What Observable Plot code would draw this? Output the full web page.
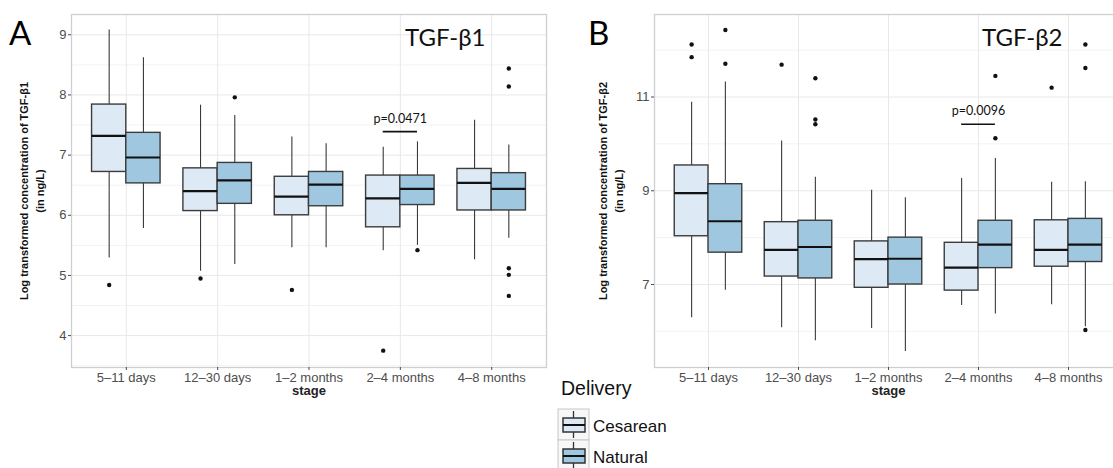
<!DOCTYPE html>
<html><head><meta charset="utf-8">
<script src="https://cdn.jsdelivr.net/npm/d3@7"></script>
<script src="https://cdn.jsdelivr.net/npm/@observablehq/plot@0.6"></script>
<style>
body{margin:0;background:#fff;}
#wrap{position:relative;width:1113px;height:468px;overflow:hidden;background:#fff;font-family:"Liberation Sans",Arial,sans-serif;}
#pa{position:absolute;left:0;top:0;width:560px;height:400px;}
#pb{position:absolute;left:560px;top:0;width:572px;height:400px;}
#ov{position:absolute;left:0;top:0;pointer-events:none;}
</style></head><body>
<div id="wrap"><div id="pa"></div><div id="pb"></div>
<svg id="ov" width="1113" height="468" font-family="Liberation Sans, Arial, sans-serif">
  <text x="9" y="45" font-family="Lato, 'Open Sans', sans-serif" font-size="33">A</text>
  <text x="588" y="45" font-family="Lato, 'Open Sans', sans-serif" font-size="33">B</text>
  <text x="561" y="395" font-size="19.5" fill="#111">Delivery</text>
  <g id="legend"></g>
</svg></div>
<script>
const stages = ["5–11 days", "12–30 days", "1–2 months", "2–4 months", "4–8 months"];
const groups = ["Cesarean", "Natural"];
const fills = ["#dde9f5", "#9fc8e0"];

// Panel A: TGF-β1
const A_ces_low  = [5.29, 5.07, 5.46, 5.41, 5.26];
const A_ces_q1   = [6.72, 6.07, 6.00, 5.80, 6.08];
const A_ces_med  = [7.32, 6.40, 6.31, 6.28, 6.54];
const A_ces_q3   = [7.84, 6.78, 6.64, 6.66, 6.77];
const A_ces_high = [9.08, 7.83, 7.30, 7.13, 7.58];
const A_ces_out  = [[4.84], [4.95], [4.76], [3.75], []];
const A_nat_low  = [5.78, 5.18, 5.46, 5.50, 5.62];
const A_nat_q1   = [6.53, 6.19, 6.15, 6.17, 6.08];
const A_nat_med  = [6.96, 6.58, 6.51, 6.44, 6.44];
const A_nat_q3   = [7.37, 6.87, 6.72, 6.66, 6.70];
const A_nat_high = [8.62, 7.66, 7.19, 7.22, 7.17];
const A_nat_out  = [[], [7.96], [], [5.42], [8.44, 8.14, 5.12, 5.01, 4.66]];
const A_ticks = [4, 5, 6, 7, 8, 9];
const A_minor = [3.5, 4.5, 5.5, 6.5, 7.5, 8.5];
const A_pval = {stage: "2–4 months", label: "p=0.0471", y: 7.39};

// Panel B: TGF-β2
const B_ces_low  = [6.29, 6.08, 6.06, 6.55, 6.57];
const B_ces_q1   = [8.03, 7.17, 6.93, 6.87, 7.38];
const B_ces_med  = [8.95, 7.74, 7.54, 7.36, 7.74];
const B_ces_q3   = [9.54, 8.33, 7.92, 7.89, 8.37];
const B_ces_high = [10.89, 10.06, 9.01, 9.26, 9.18];
const B_ces_out  = [[12.12, 11.85], [11.69], [], [], [11.20]];
const B_nat_low  = [6.88, 5.80, 5.57, 6.37, 6.10];
const B_nat_q1   = [7.68, 7.13, 7.00, 7.35, 7.48];
const B_nat_med  = [8.35, 7.80, 7.55, 7.85, 7.85];
const B_nat_q3   = [9.14, 8.36, 8.00, 8.36, 8.40];
const B_nat_high = [11.32, 9.29, 8.85, 9.69, 9.19];
const B_nat_out  = [[12.43, 11.71], [11.40, 10.52, 10.42], [], [11.45, 10.12], [12.12, 11.62, 6.03]];
const B_ticks = [7, 9, 11];
const B_minor = [6, 8, 10, 12];
const B_pval = {stage: "2–4 months", label: "p=0.0096", y: 10.42};

const W = 0.375; // dodge width per box (in stage units)

function build(ces, nat) {
  const rows = [], outs = [];
  [ces, nat].forEach((s, g) => {
    stages.forEach((st, k) => {
      const i = k + 1;
      const x1 = g === 0 ? i - W : i, x2 = g === 0 ? i : i + W;
      const xc = (x1 + x2) / 2;
      rows.push({group: groups[g], stage: st, x1, x2, xc,
        low: s.low[k], q1: s.q1[k], med: s.med[k], q3: s.q3[k], high: s.high[k]});
      s.out[k].forEach(v => outs.push({group: groups[g], stage: st, xc, y: v}));
    });
  });
  return {rows, outs};
}

function panel({el, width, marginLeft, marginRight, domain, ticks, minor, ces, nat, title, titleDx, ytitle, ytitleDx, pval}) {
  const {rows, outs} = build(ces, nat);
  const pi = stages.indexOf(pval.stage) + 1;
  const pv = [{x1: pi - W / 2, x2: pi + W / 2, xc: pi, y: pval.y, label: pval.label}];
  const chart = Plot.plot({
    width, height: 400, marginLeft, marginRight, marginTop: 14, marginBottom: 33,
    style: {fontFamily: "Liberation Sans, Arial, sans-serif", background: "transparent", color: "#4d4d4d"},
    x: {domain: [0.4, 5.6], axis: null},
    y: {domain, axis: null},
    color: {domain: groups, range: fills},
    marks: [
      Plot.ruleY(minor, {stroke: "#f3f3f3", strokeWidth: 1}),
      Plot.ruleY(ticks, {stroke: "#e8e8e8", strokeWidth: 1}),
      Plot.ruleX(d3.range(1, stages.length + 1), {stroke: "#e8e8e8", strokeWidth: 1}),
      Plot.frame({stroke: "#cfcfcf", strokeWidth: 1.3}),
      Plot.ruleX(rows, {x: "xc", y1: "low", y2: "high", stroke: "#3a3a3a", strokeWidth: 1.1}),
      Plot.rect(rows, {x1: "x1", x2: "x2", y1: "q1", y2: "q3", fill: "group", stroke: "#3c3c3c", strokeWidth: 1.4}),
      Plot.ruleY(rows, {y: "med", x1: "x1", x2: "x2", stroke: "#111", strokeWidth: 2.2}),
      Plot.dot(outs, {x: "xc", y: "y", r: 2.2, fill: "#111", stroke: "none"}),
      Plot.ruleY(pv, {y: "y", x1: "x1", x2: "x2", stroke: "#111", strokeWidth: 1.6}),
      Plot.text(pv, {x: "xc", y: "y", text: "label", dy: -13, fontSize: 12.5, fill: "#111", fontFamily: "Lato, 'Open Sans', sans-serif"}),
      Plot.axisY({ticks, tickFormat: d => String(d), tickSize: 3, tickPadding: 2, fontSize: 13, color: "#4d4d4d", label: null}),
      Plot.axisX({ticks: d3.range(1, stages.length + 1), tickFormat: i => stages[i - 1], tickSize: 3, tickPadding: 2, fontSize: 13, color: "#4d4d4d", label: null}),
      Plot.text(["stage"], {frameAnchor: "bottom", dy: 23, fontWeight: "bold", fontSize: 13, fill: "#222", lineAnchor: "middle"}),
      Plot.text([ytitle], {frameAnchor: "left", dx: ytitleDx, rotate: -90, lineAnchor: "middle", textAnchor: "middle", fontWeight: "bold", fontSize: 11, lineHeight: 1.45, fill: "#111"}),
      Plot.text([title], {frameAnchor: "top-right", dx: titleDx, dy: 24, textAnchor: "end", lineAnchor: "middle", fontSize: 24, fill: "#111", fontFamily: "Lato, 'Open Sans', sans-serif"})
    ]
  });
  document.getElementById(el).appendChild(chart);
}

panel({el: "pa", width: 560, marginLeft: 71, marginRight: 14, domain: [3.47, 9.337], ticks: A_ticks, minor: A_minor,
  ces: {low: A_ces_low, q1: A_ces_q1, med: A_ces_med, q3: A_ces_q3, high: A_ces_high, out: A_ces_out},
  nat: {low: A_nat_low, q1: A_nat_q1, med: A_nat_med, q3: A_nat_q3, high: A_nat_high, out: A_nat_out},
  title: "TGF-β1", titleDx: -61, ytitle: "Log transformed concentration of TGF-β1\n(in ng/L)", ytitleDx: -41, pval: A_pval});

panel({el: "pb", width: 572, marginLeft: 94, marginRight: 10, domain: [5.23, 12.76], ticks: B_ticks, minor: B_minor,
  ces: {low: B_ces_low, q1: B_ces_q1, med: B_ces_med, q3: B_ces_q3, high: B_ces_high, out: B_ces_out},
  nat: {low: B_nat_low, q1: B_nat_q1, med: B_nat_med, q3: B_nat_q3, high: B_nat_high, out: B_nat_out},
  title: "TGF-β2", titleDx: -60, ytitle: "Log transformed concentration of TGF-β2\n(in ng/L)", ytitleDx: -45, pval: B_pval});

// legend
const lg = d3.select("#legend");
groups.forEach((g, k) => {
  const y0 = 409 + k * 31;
  const gg = lg.append("g");
  gg.append("rect").attr("x", 558).attr("y", y0).attr("width", 31).attr("height", 31).attr("fill", "#f7f7f7").attr("stroke", "#c8c8c8");
  gg.append("line").attr("x1", 573.5).attr("x2", 573.5).attr("y1", y0 + 2).attr("y2", y0 + 29).attr("stroke", "#333").attr("stroke-width", 1.3);
  gg.append("rect").attr("x", 563).attr("y", y0 + 9).attr("width", 22).attr("height", 14).attr("fill", fills[k]).attr("stroke", "#333").attr("stroke-width", 1.5);
  gg.append("line").attr("x1", 563).attr("x2", 585).attr("y1", y0 + 16).attr("y2", y0 + 16).attr("stroke", "#111").attr("stroke-width", 2);
  gg.append("text").attr("x", 593).attr("y", y0 + 22.5).attr("font-size", 17).attr("fill", "#111").text(g);
});
</script>
</body></html>
